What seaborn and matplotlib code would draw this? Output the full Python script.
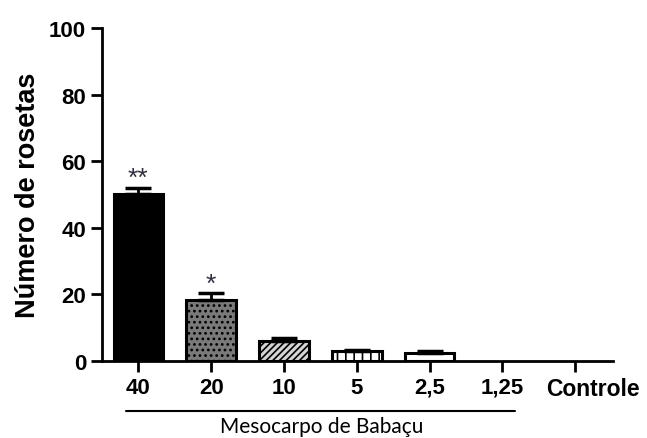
import pandas as pd
import matplotlib.pyplot as plt
import matplotlib.transforms as mtransforms
import seaborn as sns
import numpy as np

# Data
groups = ['40', '20', '10', '5', '2,5', '1,25', 'Controle']
means = [50.3, 18.3, 6.1, 3.0, 2.4, 0.0, 0.0]
errors = [1.7, 2.1, 0.8, 0.4, 0.6, 0.0, 0.0]
stars = ['**', '*', '', '', '', '', '']

fills = ['black', '#7a7a7a', '#d4d4d4', 'white', 'white', 'white', 'white']
hatches = ['', '...', '/////', '||', '--', '', '']

df = pd.DataFrame({'grupo': groups, 'rosetas': means})

sns.set_style('ticks')
plt.rcParams['font.family'] = ['Liberation Sans', 'DejaVu Sans']
plt.rcParams['hatch.linewidth'] = 1.2
for k in ['text.color', 'axes.labelcolor', 'xtick.color', 'ytick.color',
          'axes.edgecolor']:
    plt.rcParams[k] = 'black'

fig = plt.figure(figsize=(6.47, 4.39), dpi=100)
ax = fig.add_axes([0.1577, 0.1754, 0.7897, 0.7585])

sns.barplot(data=df, x='grupo', y='rosetas', order=groups, ax=ax,
            width=0.68, errorbar=None, color='white', edgecolor='black',
            linewidth=2.2)
for patch, fc, h, m in zip(ax.patches, fills, hatches, means):
    patch.set_facecolor(fc)
    patch.set_hatch(h)
    if m == 0:
        patch.set_linewidth(0)

xs = np.arange(len(groups))
mv = np.array(means)
ev = np.array(errors)
keep = mv > 0
ax.errorbar(xs[keep], mv[keep], yerr=[np.zeros(keep.sum()), ev[keep]],
            fmt='none', ecolor='black', elinewidth=2, capsize=9.5,
            capthick=2.5, zorder=3)

for x, m, e, s in zip(xs, means, errors, stars):
    if s:
        ax.text(x, m + e + 0.8, s, ha='center', va='baseline', fontsize=19,
                color='#303040')

ax.set_xlim(-0.5, 6.52)
ax.set_ylim(0, 100)
ax.set_yticks([0, 20, 40, 60, 80, 100])
ax.set_xlabel('')
ax.set_ylabel('Número de rosetas', fontsize=19.5, fontweight='bold')
ax.yaxis.set_label_coords(-0.12, 0.5)
ax.tick_params(axis='both', direction='out', length=8, width=2,
               labelsize=16)
for lab in ax.get_xticklabels() + ax.get_yticklabels():
    lab.set_fontweight('bold')
ctrl = ax.get_xticklabels()[-1]
ctrl.set_fontsize(16.5)
ctrl.set_transform(ctrl.get_transform() +
                   mtransforms.ScaledTranslation(0.18, 0, fig.dpi_scale_trans))
sns.despine(ax=ax)
for sp in ['left', 'bottom']:
    ax.spines[sp].set_linewidth(2)

# bracket under the babassu concentrations
fig.add_artist(plt.Line2D([126 / 647, 515 / 647], [1 - 412 / 439, 1 - 412 / 439],
                          color='black', linewidth=1.5))
fig.text(322 / 647, 1 - 433 / 439, 'Mesocarpo de Babaçu', ha='center',
         va='baseline', fontsize=15, family=['Lato', 'DejaVu Sans'])

fig.savefig('out.png', dpi=100)
